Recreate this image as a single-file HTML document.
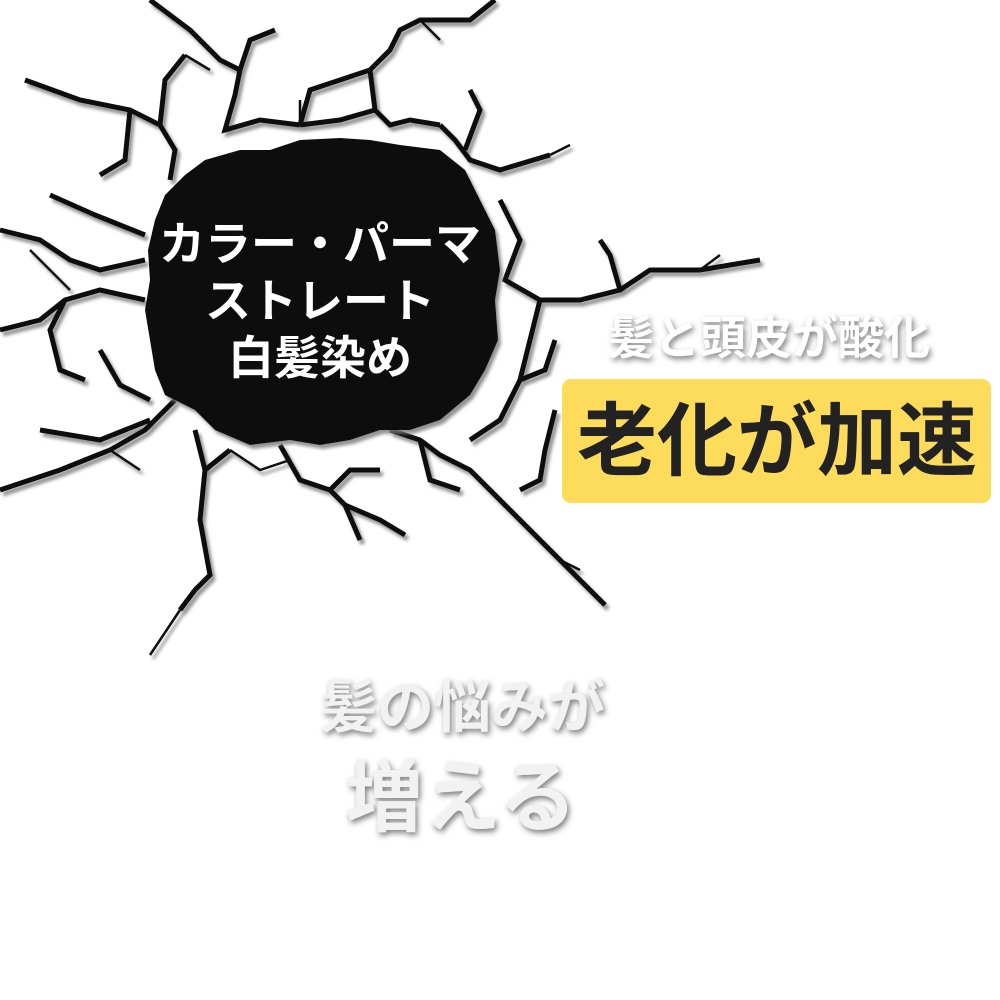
<!DOCTYPE html>
<html><head><meta charset="utf-8"><style>
html,body{margin:0;padding:0;background:#fff;}
#c{position:relative;width:1000px;height:1000px;overflow:hidden;background:#fff;font-family:"Liberation Sans","Noto Sans CJK JP",sans-serif;}
.t{position:absolute;font-weight:700;white-space:nowrap;}
.w{color:#fff;text-shadow:2px 3px 6px rgba(0,0,0,.5);}
</style></head><body><div id="c">
<svg width="1000" height="1000" style="position:absolute;left:0;top:0">
<defs><filter id="sh"><feDropShadow dx="3" dy="4" stdDeviation="1.5" flood-color="#777" flood-opacity="0.8"/></filter></defs>
<g filter="url(#sh)" fill="none" stroke="#111" stroke-linejoin="miter" stroke-linecap="butt">
<g stroke-width="5">
<polyline points="150,0 190,30 220,60 240,70"/>
<polyline points="240,70 250,40 275,30"/>
<polyline points="240,70 235,95 225,130 260,120 300,125"/>
<polyline points="300,125 310,90 340,80 370,70 390,50 400,30 420,20 470,20 495,0"/>
<polyline points="370,70 375,110 390,125 410,120 440,125"/>
<polyline points="300,125 340,120 375,110"/>
<polyline points="440,125 455,140 470,160 500,170 550,155"/>
<polyline points="25,80 80,100 130,110 160,125 175,150 170,180"/>
<polyline points="160,125 165,80 185,55"/>
<polyline points="130,110 125,160 100,175"/>
<polyline points="0,230 40,240 70,260 100,270 145,260"/>
<polyline points="50,195 95,215 145,235"/>
<polyline points="0,330 40,320 65,300 100,290 145,300"/>
<polyline points="65,300 50,330 60,370 85,380"/>
<polyline points="0,490 60,470 110,450 145,430 175,400"/>
<polyline points="40,430 100,440 150,420"/>
<polyline points="100,350 120,385 150,400"/>
<polyline points="195,430 205,470 200,520 210,575 195,590 180,610"/>
<polyline points="205,470 230,450"/>
<polyline points="280,445 300,480 330,490 345,505 360,540"/>
<polyline points="330,490 350,470 380,470"/>
<polyline points="345,505 380,520 405,535"/>
<polyline points="390,430 420,440 440,455 470,470 500,500 520,520 540,540 560,560 580,580 605,605"/>
<polyline points="420,440 430,480 460,490"/>
<polyline points="500,200 520,240 505,280 540,300 580,300 620,290 650,270 700,270 760,260"/>
<polyline points="540,300 530,340 520,380 500,420 470,440"/>
<polyline points="620,290 610,255 600,240"/>
<polyline points="520,380 545,370 555,340"/>
<polyline points="555,410 545,450 540,480 520,490"/>
<polyline points="465,150 480,110 470,90"/>
</g>
<g stroke-width="2.5">
<polyline points="185,55 210,70"/>
<polyline points="300,125 300,100"/>
<polyline points="420,20 440,40"/>
<polyline points="550,155 570,145"/>
<polyline points="30,250 70,290"/>
<polyline points="180,610 150,655"/>
<polyline points="560,560 580,570"/>
<polyline points="700,270 720,255"/>
<polyline points="110,450 140,470"/>
<polyline points="230,450 260,470 290,460"/>
</g>
</g>
<path d="M185,175 L205,160 L240,150 L270,150 L300,140 L340,138 L370,140 L400,145 L440,150 L465,170 L480,200 L495,230 L500,270 L495,300 L498,340 L485,370 L470,395 L440,420 L410,430 L380,430 L350,440 L320,445 L290,440 L250,445 L215,430 L195,410 L165,395 L155,370 L150,340 L145,310 L150,280 L148,250 L155,220 L165,195 Z" fill="#111" filter="url(#sh)"/>
</svg>
<div class="t" style="left:130px;top:216px;width:380px;text-align:center;color:#fff;font-size:46px;line-height:57px;">カラー・パーマ<br>ストレート<br>白髪染め</div>
<div class="t w" style="left:608px;top:302px;font-size:46px;">髪と頭皮が酸化</div>
<div style="position:absolute;left:562px;top:379px;width:429px;height:124px;background:#fddc5c;border-radius:9px;"></div>
<div class="t" style="left:577px;top:394px;font-size:80px;line-height:96px;color:#222;">老化が加速</div>
<div class="t w" style="left:320px;top:662px;font-size:57px;color:#f2f2f2;">髪の悩みが</div>
<div class="t w" style="left:345px;top:736px;font-size:78px;color:#f2f2f2;">増える</div>
</div></body></html>
